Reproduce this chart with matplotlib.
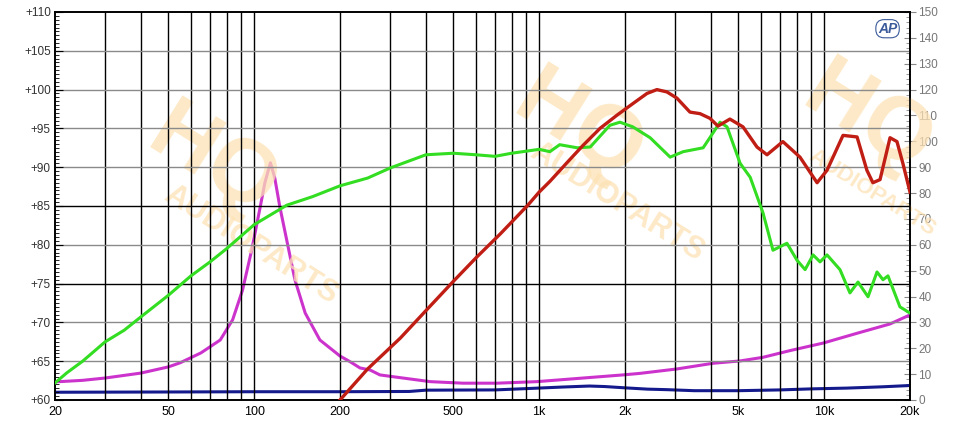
import matplotlib
matplotlib.use("Agg")
import matplotlib.pyplot as plt
from matplotlib.ticker import FixedLocator, MultipleLocator, NullFormatter

plt.rcParams["font.family"] = ["Liberation Sans", "DejaVu Sans"]

# SPL curve (green), dB, left axis
green_f = [20, 22, 25, 30, 35, 40, 50, 60, 70, 80, 100, 130, 160, 200, 250, 300,
           400, 500, 600, 700, 800, 1000, 1090, 1180, 1360, 1510, 1770, 1920, 2130,
           2450, 2880, 3200, 3760, 4070, 4310, 4560, 5070, 5500, 6100, 6610, 7400,
           8030, 8570, 9140, 9670, 10230, 11360, 12310, 13140, 14250, 15320, 16080,
           16740, 18440, 20000]
green_db = [62.2, 63.5, 65.0, 67.5, 69.0, 70.7, 73.5, 76.0, 77.8, 79.5, 82.6, 85.1,
            86.2, 87.6, 88.6, 89.9, 91.6, 91.8, 91.6, 91.4, 91.8, 92.3, 92.0, 92.9,
            92.5, 92.6, 95.4, 95.8, 95.2, 93.8, 91.3, 92.0, 92.5, 94.4, 95.8, 95.2,
            90.5, 88.7, 84.1, 79.3, 80.2, 78.0, 76.8, 78.7, 77.8, 78.7, 76.8, 73.8,
            75.2, 73.3, 76.5, 75.5, 76.0, 72.0, 71.2]

# second SPL curve (red), dB, left axis
red_f = [200, 250, 326, 400, 500, 603, 730, 912, 1000, 1092, 1282, 1424, 1634, 1874,
         2132, 2388, 2588, 2806, 3042, 3380, 3666, 3972, 4238, 4668, 5188, 5810, 6300,
         7160, 8220, 9440, 10230, 11640, 13040, 14120, 14820, 15700, 17020, 18000,
         18880, 20000]
red_db = [60.0, 64.0, 68.0, 71.5, 75.3, 78.4, 81.4, 85.1, 86.8, 88.2, 91.0, 92.8,
          95.0, 96.7, 98.2, 99.5, 100.0, 99.7, 98.9, 97.1, 96.9, 96.3, 95.3, 96.2,
          95.2, 92.6, 91.6, 93.3, 91.3, 88.0, 89.6, 94.1, 93.9, 89.6, 88.0, 88.4,
          93.8, 93.3, 90.5, 86.8]

# impedance (magenta), right axis
mag_f = [20, 25, 30, 40, 50, 55, 65, 76, 84, 91, 98, 105, 109, 114, 118, 123, 130,
         139, 151, 170, 200, 217, 235, 255, 276, 317, 414, 540, 711, 982, 1390, 1968,
         2260, 3042, 4074, 5068, 6098, 7586, 9910, 13040, 17020, 20000]
mag_val = [7.0, 7.6, 8.5, 10.4, 12.8, 14.4, 18.2, 23.2, 31.0, 42.5, 58.0, 74.7, 84.0,
           91.7, 86.0, 74.7, 61.9, 46.4, 33.6, 23.2, 17.0, 14.8, 12.4, 11.6, 9.7, 8.8,
           7.1, 6.5, 6.5, 7.1, 8.4, 9.7, 10.3, 12.0, 14.2, 15.1, 16.5, 19.1, 22.0,
           25.8, 29.4, 32.9]

# phase-ish trace (blue), right axis
blue_f = [20, 50, 100, 200, 350, 400, 700, 900, 1200, 1500, 1700, 2000, 2400, 2800,
          3500, 5000, 7000, 9000, 12000, 16000, 20000]
blue_val = [3.0, 3.1, 3.2, 3.2, 3.3, 3.8, 3.9, 4.4, 5.0, 5.4, 5.2, 4.7, 4.2, 4.0, 3.6,
            3.6, 3.9, 4.3, 4.6, 5.1, 5.6]

x_ticks = [20, 50, 100, 200, 500, 1000, 2000, 5000, 10000, 20000]
x_labels = ["20", "50", "100", "200", "500", "1k", "2k", "5k", "10k", "20k"]
left_ticks = [60, 65, 70, 75, 80, 85, 90, 95, 100, 105, 110]
right_ticks = list(range(0, 151, 10))

fig = plt.figure(figsize=(9.64, 4.29), dpi=100)
ax = fig.add_axes([55 / 964, 1 - 400 / 429, 855 / 964, 388 / 429])
ax2 = ax.twinx()

# watermark (drawn first, behind everything)
wm = "#fde2b4"
for (hx, hy, tx, ty, fs) in [(0.22, 0.62, 0.26, 0.43, 22), (0.60, 0.70, 0.64, 0.53, 22),
                             (0.90, 0.72, 0.905, 0.55, 16)]:
    fig.text(hx, hy, "HQ", fontsize=64, fontweight="bold", color=wm, rotation=-32,
             ha="center", va="center", zorder=0, alpha=0.75)
    fig.text(tx, ty, "AUDIOPARTS", fontsize=fs, fontweight="bold", color=wm,
             rotation=-32, ha="center", va="center", zorder=0, alpha=0.75)
ax.set_facecolor("none")
ax2.set_facecolor("none")

ax.set_xscale("log")
ax.set_xlim(20, 20000)
ax.set_ylim(60, 110)
ax2.set_ylim(0, 150)

# grid
vlines = [f * m for m in (10, 100, 1000) for f in range(2, 11)] + [20000]
for v in vlines:
    if 20 < v < 20000:
        ax.axvline(v, color="black", lw=1.0, zorder=1)
for h in left_ticks[1:-1]:
    ax.axhline(h, color="black" if h in (75, 85) else "#8a8a8a", lw=1.0, zorder=1)

ax2.plot(blue_f, blue_val, color="#141a8c", lw=2.2, zorder=3)
ax2.plot(mag_f, mag_val, color="#cc33cc", lw=2.2, zorder=3)
ax.plot(green_f, green_db, color="#33dd22", lw=2.2, zorder=4)
ax.plot(red_f, red_db, color="#c01e14", lw=2.4, zorder=4)
ax.set_zorder(ax2.get_zorder() + 1)

ax.xaxis.set_major_locator(FixedLocator(x_ticks))
ax.xaxis.set_minor_formatter(NullFormatter())
ax.set_xticklabels(x_labels)
ax.tick_params(axis="x", which="both", length=0, labelsize=9, pad=4)

ax.yaxis.set_major_locator(FixedLocator(left_ticks))
ax.yaxis.set_minor_locator(MultipleLocator(0.5))
ax.set_yticklabels(["+%d" % t for t in left_ticks])
ax.tick_params(axis="y", which="major", direction="in", length=6, labelsize=8.5,
               labelcolor="#333333", pad=3)
ax.tick_params(axis="y", which="minor", direction="in", length=3)

ax2.yaxis.set_major_locator(FixedLocator(right_ticks))
ax2.yaxis.set_minor_locator(MultipleLocator(2))
ax2.tick_params(axis="y", which="major", direction="inout", length=8, labelsize=8.5,
                labelcolor="#777777", color="#888888", pad=2)
ax2.tick_params(axis="y", which="minor", direction="in", length=3, color="#888888")

for a in (ax, ax2):
    for s in a.spines.values():
        s.set_linewidth(1.2)
        s.set_color("black")

ax.text(0.985, 0.975, "AP", transform=ax.transAxes, ha="right", va="top",
        fontsize=10, fontstyle="italic", fontweight="bold", color="#3a5a9a",
        bbox=dict(boxstyle="round,pad=0.15,rounding_size=0.6", fc="white",
                  ec="#3a5a9a", lw=0.8), zorder=6)

plt.savefig("out.png", dpi=100)
